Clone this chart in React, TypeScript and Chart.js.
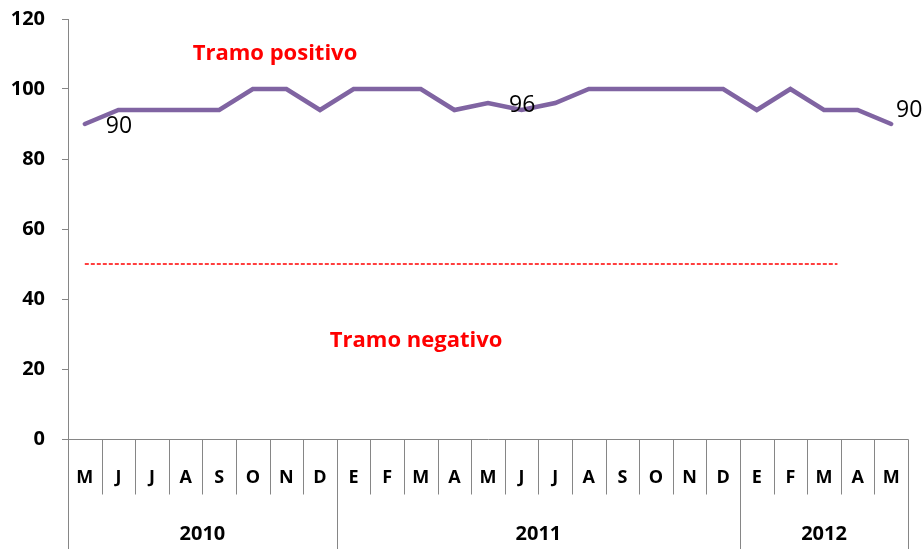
import React, { useEffect, useRef } from "react";
import { Chart, registerables } from "chart.js";

Chart.register(...registerables);

const months = ["M", "J", "J", "A", "S", "O", "N", "D", "E", "F", "M", "A", "M", "J", "J", "A", "S", "O", "N", "D", "E", "F", "M", "A", "M"];
const yearLabels = ["2010", "2011", "2012"];
const yearSpans = [8, 12, 5];
const values = [90, 94, 94, 94, 94, 100, 100, 94, 100, 100, 100, 94, 96, 94, 96, 100, 100, 100, 100, 100, 94, 100, 94, 94, 90];
const labeledPoints = [0, 12, 24];
const thresholdValue = 50;
const thresholdStart = 0;
const thresholdEnd = 22.4;
const yTicks = [0, 20, 40, 60, 80, 100, 120];
const notes = [
  { text: "Tramo positivo", x: 5.66, y: 110 },
  { text: "Tramo negativo", x: 9.86, y: 28 },
];

const AXIS = "#868686";
const FONT = "'Open Sans', Lato, sans-serif";

const customPlugin = {
  id: "custom",
  afterDraw(chart: any) {
    const ctx = chart.ctx;
    const area = chart.chartArea;
    const xs = chart.scales.x;
    const ys = chart.scales.y;
    const x2 = chart.scales.x2;
    const n = months.length;
    const bound = (i: number) => Math.round(xs.getPixelForValue(i - 0.5)) + 0.5;
    const yb = Math.round(area.bottom) + 0.5;
    const H = chart.height;
    ctx.save();
    ctx.strokeStyle = AXIS;
    ctx.lineWidth = 1;
    ctx.beginPath();
    ctx.moveTo(bound(0), yb);
    ctx.lineTo(bound(n), yb);
    const yearBounds = [0];
    let acc = 0;
    yearSpans.forEach((s) => { acc += s; yearBounds.push(acc); });
    for (let i = 0; i <= n; i++) {
      const x = bound(i);
      const isYear = yearBounds.includes(i);
      ctx.moveTo(x, yb);
      ctx.lineTo(x, isYear ? H : yb + 55);
    }
    ctx.stroke();
    ctx.fillStyle = "#000";
    ctx.textAlign = "center";
    ctx.textBaseline = "middle";
    ctx.font = "bold 18px " + FONT;
    months.forEach((m, i) => {
      ctx.fillText(m, xs.getPixelForValue(i), yb + 38);
    });
    ctx.font = "bold 20px " + FONT;
    let start = 0;
    yearLabels.forEach((y, k) => {
      const end = start + yearSpans[k];
      const cx = (xs.getPixelForValue(start - 0.5) + xs.getPixelForValue(end - 0.5)) / 2;
      ctx.fillText(y, cx, yb + 95);
      start = end;
    });
    ctx.font = "23px " + FONT;
    ctx.textAlign = "left";
    labeledPoints.forEach((i) => {
      const px = xs.getPixelForValue(i);
      const py = ys.getPixelForValue(values[i]);
      ctx.fillText(String(values[i]), Math.min(px + 21, chart.width - 27), i === n - 1 ? py - 14 : py + 2);
    });
    ctx.fillStyle = "#FF0000";
    ctx.textAlign = "center";
    ctx.font = "bold 22px " + FONT;
    notes.forEach((nt) => {
      ctx.fillText(nt.text, x2.getPixelForValue(nt.x), ys.getPixelForValue(nt.y));
    });
    ctx.restore();
  },
};

export default function App() {
  const ref = useRef<HTMLCanvasElement | null>(null);
  useEffect(() => {
    if (!ref.current) return;
    const chart = new Chart(ref.current, {
      type: "line",
      data: {
        labels: months,
        datasets: [
          {
            data: values,
            borderColor: "#8064A2",
            borderWidth: 4.5,
            pointRadius: 0,
            tension: 0,
            xAxisID: "x",
            borderCapStyle: "round",
            borderJoinStyle: "miter",
          } as any,
          {
            data: [
              { x: thresholdStart, y: thresholdValue },
              { x: thresholdEnd, y: thresholdValue },
            ],
            borderColor: "#FF0000",
            borderWidth: 1.3,
            borderDash: [4, 2],
            pointRadius: 0,
            xAxisID: "x2",
          } as any,
        ],
      },
      options: {
        responsive: false,
        animation: false,
        events: [],
        layout: { padding: { top: 19, bottom: 110, right: 15, left: 0 } },
        plugins: { legend: { display: false }, tooltip: { enabled: false }, title: { display: false } },
        scales: {
          x: { type: "category", display: false, offset: true },
          x2: { type: "linear", display: false, min: -0.5, max: months.length - 0.5 },
          y: {
            min: 0,
            max: 120,
            afterFit(scale: any) {
              scale.width = 68;
              scale.paddingTop = 0;
              scale.paddingBottom = 0;
            },
            afterBuildTicks(scale: any) { scale.ticks = yTicks.map((v) => ({ value: v })); },
            ticks: {
              padding: 17,
              color: "#000",
              font: { family: FONT, weight: "bold", size: 20 },
            },
            grid: { drawOnChartArea: false, drawTicks: true, tickLength: 6, color: AXIS },
            border: { display: true, color: AXIS, width: 1 },
          },
        },
      } as any,
      plugins: [customPlugin],
    });
    return () => chart.destroy();
  }, []);
  return (
    <div style={{ position: "absolute", left: 0, top: 0, width: 923, height: 549, background: "#fff" }}>
      <canvas ref={ref} width={923} height={549} />
    </div>
  );
}
